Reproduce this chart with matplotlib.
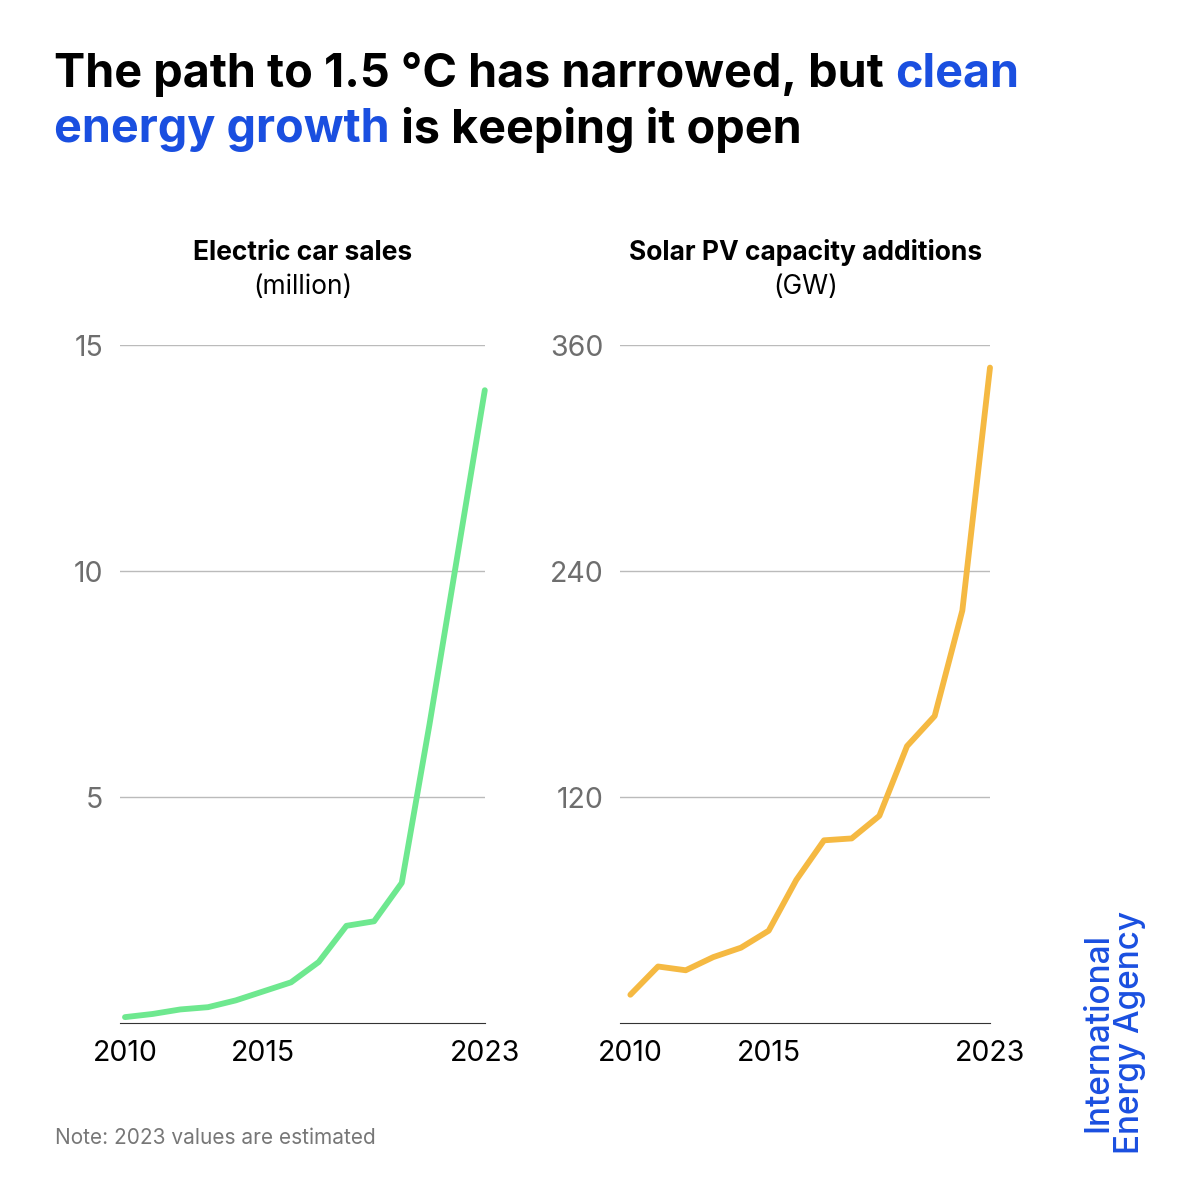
import matplotlib
matplotlib.use("Agg")
import matplotlib.pyplot as plt

years = list(range(2010, 2024))
ev_sales = [0.13, 0.2, 0.3, 0.35, 0.5, 0.7, 0.9, 1.35, 2.15, 2.25, 3.1, 6.6, 10.3, 14.0]
solar_gw = [15, 30, 28, 35, 40, 49, 76, 97, 98, 110, 147, 163, 219, 348]
ev_ticks = [5, 10, 15]
pv_ticks = [120, 240, 360]
x_ticks = [2010, 2015, 2023]

plt.rcParams['font.family'] = ['Inter', 'DejaVu Sans']
fig = plt.figure(figsize=(12, 12), dpi=100)
fig.patch.set_facecolor('white')

blue = '#1a4fe0'
fs = 33.7
t = fig.text(0.045, 0.938, "The path to 1.5 °C has narrowed, but ", fontsize=fs, fontweight='bold', va='center', color='black')
fig.canvas.draw()
bb = t.get_window_extent()
fig.text(bb.x1 / 1200, 0.938, "clean", fontsize=fs, fontweight='bold', va='center', color=blue)
t2 = fig.text(0.045, 0.892, "energy growth", fontsize=fs, fontweight='bold', va='center', color=blue)
fig.canvas.draw()
bb2 = t2.get_window_extent()
fig.text(bb2.x1 / 1200, 0.892, " is keeping it open", fontsize=fs, fontweight='bold', va='center', color='black')

def panel(rect, data, ticks, color, title, unit, xmin):
    ax = fig.add_axes(rect)
    ax.plot(years, data, color=color, lw=4.2, solid_capstyle='round', clip_on=False)
    ax.set_ylim(0, ticks[-1])
    ax.set_xlim(xmin, 2023)
    ax.set_yticks(ticks)
    ax.set_xticks(x_ticks)
    ax.grid(axis='y', color='#bbbbbb', lw=1)
    ax.set_axisbelow(True)
    for s in ['top', 'right', 'left']:
        ax.spines[s].set_visible(False)
    ax.spines['bottom'].set_color('#333333')
    ax.tick_params(axis='y', length=0, labelsize=20.5, labelcolor='#6e6e6e', pad=12)
    ax.tick_params(axis='x', length=0, labelsize=20.5, labelcolor='black', pad=12)
    cx = rect[0] + rect[2] / 2
    fig.text(cx, 1 - 253 / 1200, title, fontsize=19, fontweight='bold', ha='center', va='center')
    fig.text(cx, 1 - 287 / 1200, unit, fontsize=19, ha='center', va='center')
    return ax

panel([0.1, 0.1475, 0.304, 0.565], ev_sales, ev_ticks, '#6ee88f', "Electric car sales", "(million)", 2009.82)
panel([0.517, 0.1475, 0.308, 0.565], solar_gw, pv_ticks, '#f5b942', "Solar PV capacity additions", "(GW)", 2009.64)

fig.text(0.046, 1 - 1138 / 1200, "Note: 2023 values are estimated", fontsize=15, color='#777777', va='center')
fig.text(0.9285, 1 - 1032 / 1200, "International\nEnergy Agency", rotation=90, fontsize=24, color=blue,
         fontweight='medium', ha='center', va='center', linespacing=0.95)

fig.savefig("out.png", dpi=100, facecolor='white')
